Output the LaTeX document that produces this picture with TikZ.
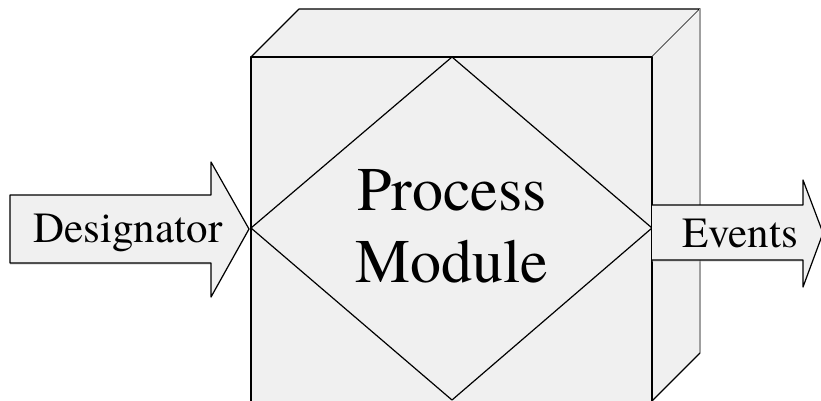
\documentclass[tikz,border=0pt]{standalone}
\usepackage{fontspec}
\setmainfont{texgyretermes}[Extension=.otf, UprightFont=*-regular]
\usetikzlibrary{shadows}
\definecolor{boxgray}{RGB}{240,240,240}
\tikzset{
  face/.style = {draw, fill=boxgray},
  blockarrow/.style = {fill=boxgray, drop shadow={shadow xshift=0pt, shadow yshift=-1.5pt, fill=gray!60}},
  lbl/.style = {anchor=base, inner sep=0pt, font=\rmfamily\fontsize{43}{50}\selectfont},
  big/.style = {anchor=base, inner sep=0pt, font=\rmfamily\fontsize{62}{72}\selectfont}
}
\begin{document}
\begin{tikzpicture}[x=1pt, y=1pt, line width=1.2pt, line join=round]
    \useasboundingbox (0,0) rectangle (821,400);
    % box corners
    \coordinate (fbl) at (251,-5);  \coordinate (ftl) at (251,343);
    \coordinate (ftr) at (652,343); \coordinate (fbr) at (652,-5);
    \coordinate (btl) at (299,391); \coordinate (btr) at (700,391);
    \coordinate (bbr) at (700,47);  \coordinate (sbr) at (652,-1);
    % top and side faces
    \draw [face] (ftl) -- (btl) -- (btr) -- (ftr) -- cycle;
    \fill [boxgray] (ftr) -- (btr) -- (bbr) -- (sbr) -- cycle;
    \draw [gray!75, line width=2pt] (btr) -- (bbr);
    \draw (bbr) -- (sbr);
    % front face and diamond
    \draw [face] (fbl) rectangle (ftr);
    \draw (452,343) -- (251,172) -- (452,0) -- (652,172) -- cycle;
    \node (proc) [big] at (452,190) {Process};
    \node (mod) [big] at (452,118) {Module};
    % input arrow
    \draw [blockarrow] (10,205) -- (211,205) -- (211,238) -- (249,171)
      -- (211,103) -- (211,137) -- (10,137) -- cycle;
    \node (des) [lbl] at (128,158) {Designator};
    % output arrow, open at the box
    \fill [blockarrow] (652,195) -- (803,195) -- (803,220) -- (823,167)
      -- (803,113) -- (803,140) -- (652,140) -- cycle;
    \draw (652,195) -- (803,195) -- (803,220) -- (823,167)
      -- (803,113) -- (803,140) -- (652,140);
    \node (ev) [lbl] at (740,153) {Events};
\end{tikzpicture}
\end{document}
